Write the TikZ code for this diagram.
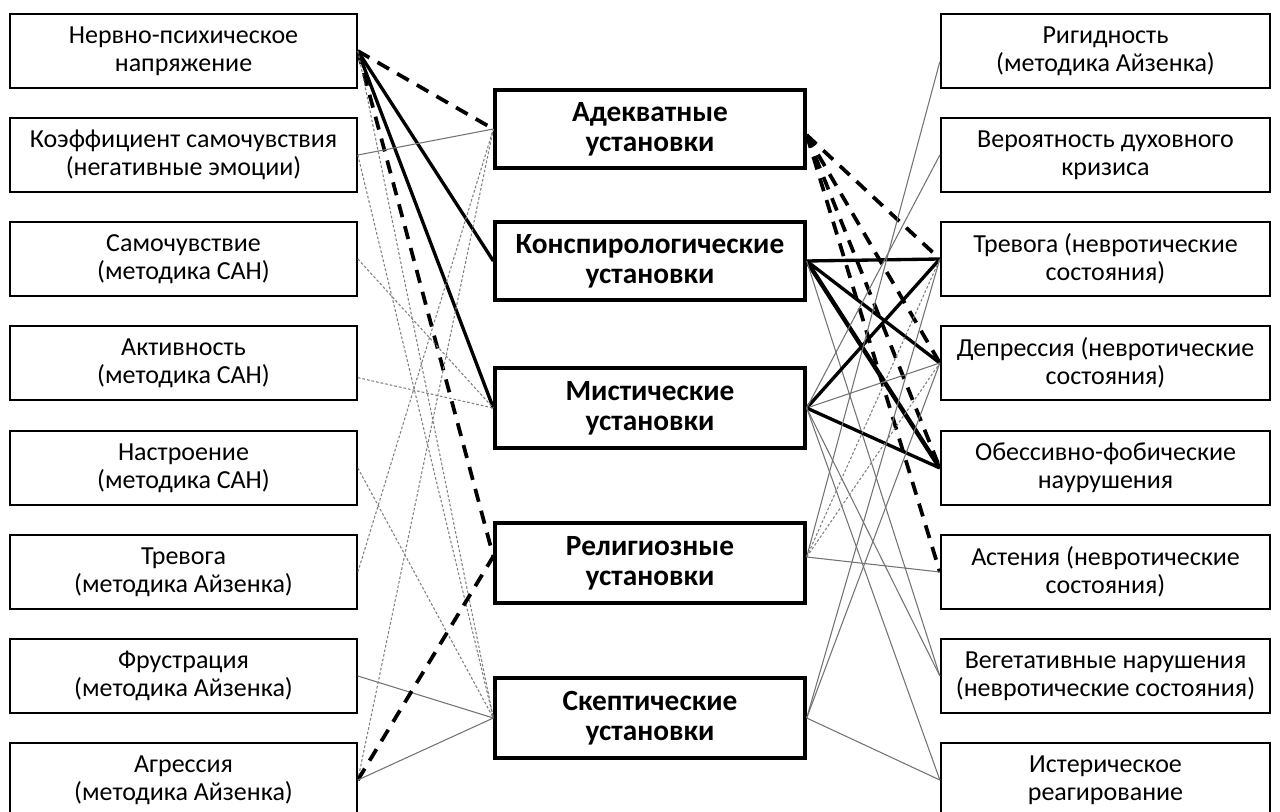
\documentclass[tikz,border=0pt]{standalone}
\usepackage{fontspec}
\setmainfont{Carlito}
\begin{document}
\begin{tikzpicture}[x=0.75pt,y=-0.75pt,
  sidebox/.style={draw, line width=1.5pt, fill=white, minimum width=250pt,
    minimum height=55pt, align=center, inner sep=0pt,
    font=\fontsize{19.5}{21}\selectfont},
  midbox/.style={draw, line width=3pt, fill=white, minimum width=232pt,
    minimum height=58pt, align=center, inner sep=0pt,
    font=\fontsize{22}{22.5}\selectfont\bfseries},
  strong/.style={line width=2.5pt, black},
  heavy/.style={line width=3.3pt, black},
  strongdash/.style={line width=2.8pt, black, dash pattern=on 10pt off 7pt},
  weak/.style={line width=0.8pt, black!55},
  weakdot/.style={line width=0.8pt, black!50, dash pattern=on 2pt off 1.5pt}]
\useasboundingbox (0,0) rectangle (1280,812);

% left column
\node[sidebox, minimum width=260pt] (L1) at (183.5,51) {Нервно-психическое\\напряжение};
\node[sidebox, minimum width=260pt] (L2) at (183.5,155) {Коэффициент самочувствия\\(негативные эмоции)};
\node[sidebox, minimum width=260pt] (L3) at (183.5,259) {Самочувствие\\(методика САН)};
\node[sidebox, minimum width=260pt] (L4) at (183.5,363) {Активность\\(методика САН)};
\node[sidebox, minimum width=260pt] (L5) at (183.5,468) {Настроение\\(методика САН)};
\node[sidebox, minimum width=260pt] (L6) at (183.5,572) {Тревога\\(методика Айзенка)};
\node[sidebox, minimum width=260pt] (L7) at (183.5,676) {Фрустрация\\(методика Айзенка)};
\node[sidebox, minimum width=260pt] (L8) at (183.5,780) {Агрессия\\(методика Айзенка)};

% middle column
\node[midbox, minimum height=58.5pt] (A) at (650,129) {Адекватные\\установки};
\node[midbox, minimum height=58.5pt] (K) at (650,261) {Конспирологические\\установки};
\node[midbox, minimum height=60pt] (M) at (650,408) {Мистические\\установки};
\node[midbox, minimum height=60pt] (R) at (650,563) {Религиозные\\установки};
\node[midbox, minimum height=60pt] (S) at (650,718) {Скептические\\установки};

% right column
\node[sidebox, minimum width=247pt] (R1) at (1105.5,51) {Ригидность\\(методика Айзенка)};
\node[sidebox, minimum width=247pt] (R2) at (1105.5,155) {Вероятность духовного\\кризиса};
\node[sidebox, minimum width=247pt] (R3) at (1105.5,259) {Тревога (невротические\\состояния)};
\node[sidebox, minimum width=247pt] (R4) at (1105.5,363) {Депрессия (невротические\\состояния)};
\node[sidebox, minimum width=247pt] (R5) at (1105.5,468) {Обессивно-фобические\\наурушения};
\node[sidebox, minimum width=247pt] (R6) at (1105.5,572) {Астения (невротические\\состояния)};
\node[sidebox, minimum width=247pt] (R7) at (1105.5,676) {Вегетативные нарушения\\(невротические состояния)};
\node[sidebox, minimum width=247pt] (R8) at (1105.5,780) {Истерическое\\реагирование};

% attachment points
\coordinate (L4p) at ([yshift=-11pt]L4.east);
\coordinate (Aw) at ([yshift=0pt]A.west);
\coordinate (Ae) at ([yshift=-4.5pt]A.east);
\coordinate (Rw) at ([yshift=5pt]R.west);
\coordinate (Re) at ([yshift=4.5pt]R.east);
\coordinate (R1w) at ([yshift=-8pt]R1.west);

% left side links
\draw[strongdash] (L1.east) -- (Aw);
\draw[strong] (L1.east) -- (K.west);
\draw[strong] (L1.east) -- (M.west);
\draw[strongdash] (L1.east) -- (Rw);
\draw[weakdot] (L1.east) -- (S.west);
\draw[weak] (L2.east) -- (Aw);
\draw[weakdot] (L2.east) -- (S.west);
\draw[weakdot] (L3.east) -- (M.west);
\draw[weakdot] (L4p) -- (M.west);
\draw[weakdot] (L5.east) -- (S.west);
\draw[weakdot] (L6.east) -- (Aw);
\draw[weak] (L7.east) -- (S.west);
\draw[weakdot] (L8.east) -- (Aw);
\draw[strongdash] (L8.east) -- (Rw);
\draw[weak] (L8.east) -- (S.west);

% right side links
\draw[strongdash] (Ae) -- (R3.west);
\draw[strongdash] (Ae) -- (R4.west);
\draw[strongdash] (Ae) -- (R5.west);
\draw[strongdash] (Ae) -- (R6.west);
\draw[strong] (K.east) -- (R3.west);
\draw[strong] (K.east) -- (R4.west);
\draw[heavy] (K.east) -- (R5.west);
\draw[weak] (K.east) -- (R7.west);
\draw[strong] (M.east) -- (R3.west);
\draw[weak] (M.east) -- (R4.west);
\draw[strong] (M.east) -- (R5.west);
\draw[weak] (M.east) -- (R2.west);
\draw[weak] (M.east) -- (R7.west);
\draw[weak] (M.east) -- (R8.west);
\draw[weak] (Re) -- (R1w);
\draw[weakdot] (Re) -- (R3.west);
\draw[weakdot] (Re) -- (R4.west);
\draw[weak] (Re) -- (R6.west);
\draw[weak] (S.east) -- (R3.west);
\draw[weak] (S.east) -- (R4.west);
\draw[weak] (S.east) -- (R8.west);
\end{tikzpicture}
\end{document}
